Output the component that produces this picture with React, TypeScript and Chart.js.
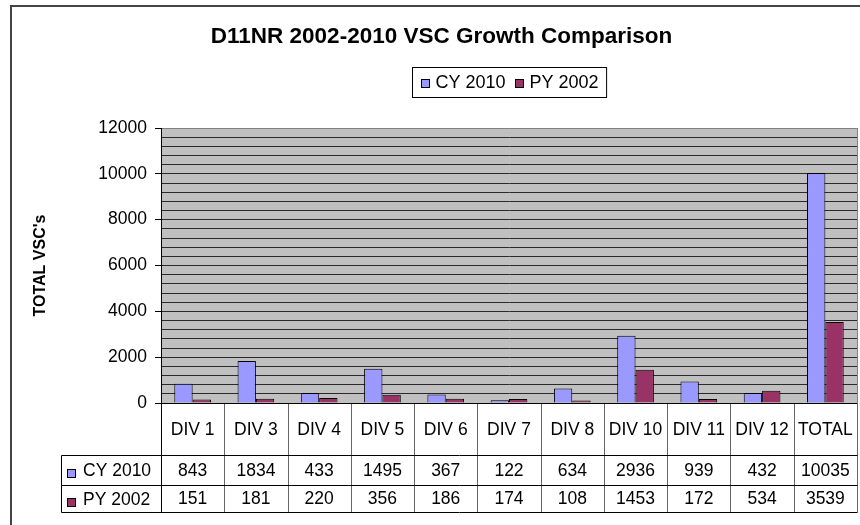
import React, { useEffect, useRef } from "react";
import { Chart, registerables } from "chart.js";

Chart.register(...registerables);

const categories = ["DIV 1", "DIV 3", "DIV 4", "DIV 5", "DIV 6", "DIV 7", "DIV 8", "DIV 10", "DIV 11", "DIV 12", "TOTAL"];
const cy2010 = [843, 1834, 433, 1495, 367, 122, 634, 2936, 939, 432, 10035];
const py2002 = [151, 181, 220, 356, 186, 174, 108, 1453, 172, 534, 3539];
const seriesLabels = ["CY 2010", "PY 2002"];
const seriesColors = ["#9999FF", "#993366"];
const titleText = "D11NR 2002-2010 VSC Growth Comparison";
const yAxisTitle = "TOTAL VSC's";
const yMax = 12000;
const yGridStep = 400;
const yLabelStep = 2000;

const FONT = "'Liberation Sans', Arial, sans-serif";

const backgroundPlugin = {
  id: "bgPlot",
  beforeDraw(chart: any) {
    const { ctx, chartArea: ca, width, height } = chart;
    ctx.save();
    ctx.fillStyle = "#ffffff";
    ctx.fillRect(0, 0, width, height);
    ctx.fillStyle = "#C0C0C0";
    ctx.fillRect(ca.left, ca.top, ca.right - ca.left, ca.bottom - ca.top);
    ctx.restore();
  },
  afterLayout(chart: any) {
    const tb = chart.titleBlock;
    if (tb) {
      tb.left += 8;
      tb.right += 8;
    }
  },
};

const overlayPlugin = {
  id: "overlay",
  afterDraw(chart: any) {
    const { ctx, chartArea: ca } = chart;
    const xs = chart.scales.x;
    const n = categories.length;
    const colW = (ca.right - ca.left) / n;
    ctx.save();

    // plot right border
    ctx.strokeStyle = "#808080";
    ctx.lineWidth = 1;
    ctx.beginPath();
    ctx.moveTo(Math.round(ca.right) + 0.5, ca.top);
    ctx.lineTo(Math.round(ca.right) + 0.5, ca.bottom);
    ctx.stroke();

    // outer chart border
    ctx.strokeStyle = "#444444";
    ctx.lineWidth = 2;
    ctx.beginPath();
    ctx.moveTo(11, chart.height + 2);
    ctx.lineTo(11, 6);
    ctx.lineTo(chart.width + 2, 6);
    ctx.stroke();

    // legend
    ctx.font = `18px ${FONT}`;
    const sq = 9, gapTxt = 6, gapItem = 9, pad = 8;
    const ds = chart.data.datasets;
    const widths = ds.map((d: any) => ctx.measureText(d.label).width);
    let inner = 0;
    widths.forEach((w: number, i: number) => {
      inner += sq + gapTxt + w + (i < widths.length - 1 ? gapItem : 0);
    });
    const boxW = inner + pad * 2;
    const boxH = 30;
    const cx = (ca.left + ca.right) / 2;
    const boxL = Math.round(cx - boxW / 2) + 0.5;
    const boxT = 67.5;
    ctx.fillStyle = "#ffffff";
    ctx.fillRect(boxL, boxT, boxW, boxH);
    ctx.strokeStyle = "#000000";
    ctx.lineWidth = 1;
    ctx.strokeRect(boxL, boxT, boxW, boxH);
    let lx = boxL + pad;
    const ly = boxT + boxH / 2 + 0.5;
    ds.forEach((d: any, i: number) => {
      ctx.fillStyle = d.backgroundColor;
      ctx.fillRect(Math.round(lx), Math.round(ly - sq / 2), sq, sq);
      ctx.strokeStyle = "#000";
      ctx.strokeRect(Math.round(lx) + 0.5, Math.round(ly - sq / 2) + 0.5, sq - 1, sq - 1);
      ctx.fillStyle = "#000";
      ctx.textAlign = "left";
      ctx.textBaseline = "middle";
      ctx.fillText(d.label, lx + sq + gapTxt, ly);
      lx += sq + gapTxt + widths[i] + gapItem;
    });

    // data table
    const r0 = Math.round(ca.bottom) + 0.5;
    const r1 = r0 + 52;
    const r2 = r1 + 30;
    const r3 = r2 + 27;
    const labelLeft = 61.5;
    const tL = Math.round(ca.left) + 0.5;
    const tR = Math.round(ca.right) + 0.5;

    ctx.strokeStyle = "#666666";
    ctx.lineWidth = 1;
    for (let i = 1; i < n; i++) {
      const bx = Math.round(ca.left + colW * i) + 0.5;
      ctx.beginPath();
      ctx.moveTo(bx, r0);
      ctx.lineTo(bx, r3);
      ctx.stroke();
    }
    ctx.beginPath();
    ctx.moveTo(tR, r0);
    ctx.lineTo(tR, r3);
    ctx.stroke();
    ctx.strokeStyle = "#000000";
    ctx.beginPath();
    ctx.moveTo(tL, r0);
    ctx.lineTo(tL, r3);
    ctx.moveTo(labelLeft, r1);
    ctx.lineTo(labelLeft, r3);
    ctx.stroke();

    ctx.beginPath();
    ctx.moveTo(tL, r0);
    ctx.lineTo(tR, r0);
    ctx.moveTo(labelLeft, r1);
    ctx.lineTo(tR, r1);
    ctx.moveTo(labelLeft, r2);
    ctx.lineTo(tR, r2);
    ctx.moveTo(labelLeft, r3);
    ctx.lineTo(tR, r3);
    ctx.stroke();

    ctx.font = `17.5px ${FONT}`;
    ctx.fillStyle = "#000";
    ctx.textAlign = "center";
    ctx.textBaseline = "middle";
    const rows = [cy2010, py2002];
    categories.forEach((c, i) => {
      const px = xs.getPixelForValue(i);
      ctx.fillText(c, px, (r0 + r1) / 2 + 0.5);
      ctx.fillText(String(rows[0][i]), px, (r1 + r2) / 2 + 0.5);
      ctx.fillText(String(rows[1][i]), px, (r2 + r3) / 2 + 0.5);
    });
    const rowYs = [(r1 + r2) / 2 + 1, (r2 + r3) / 2 + 1.5];
    ds.forEach((d: any, i: number) => {
      const y = rowYs[i];
      ctx.fillStyle = d.backgroundColor;
      ctx.fillRect(67, Math.round(y - 3), 9, 9);
      ctx.strokeStyle = "#000";
      ctx.strokeRect(67.5, Math.round(y - 3) + 0.5, 8, 8);
      ctx.fillStyle = "#000";
      ctx.textAlign = "left";
      ctx.fillText(d.label, 83, y);
    });

    ctx.restore();
  },
};

export default function App() {
  const canvasRef = useRef<HTMLCanvasElement | null>(null);

  useEffect(() => {
    const canvas = canvasRef.current;
    if (!canvas) return;
    const chart = new Chart(canvas, {
      type: "bar",
      data: {
        labels: categories,
        datasets: [
          {
            label: seriesLabels[0],
            data: cy2010,
            backgroundColor: seriesColors[0],
            borderColor: "#000000",
            borderWidth: 1,
            categoryPercentage: 0.58,
            barPercentage: 1.0,
          },
          {
            label: seriesLabels[1],
            data: py2002,
            backgroundColor: seriesColors[1],
            borderColor: "#000000",
            borderWidth: 1,
            categoryPercentage: 0.58,
            barPercentage: 1.0,
          },
        ],
      },
      options: {
        responsive: false,
        animation: false,
        devicePixelRatio: 1,
        layout: { padding: { left: 10, right: 3, top: 6, bottom: 0 } },
        plugins: {
          legend: { display: false },
          tooltip: { enabled: false },
          title: {
            display: true,
            text: titleText,
            color: "#000",
            font: { family: FONT, size: 22.5, weight: "bold" },
            padding: { top: 17.5, bottom: 77.5 },
          },
        },
        scales: {
          x: {
            type: "category",
            offset: true,
            ticks: { display: false },
            grid: { display: false },
            border: { display: false },
            afterFit: (scale: any) => {
              scale.height = 122;
            },
          },
          y: {
            min: 0,
            max: yMax,
            ticks: {
              stepSize: yGridStep,
              autoSkip: false,
              maxTicksLimit: 100,
              padding: 8,
              color: "#000",
              font: { family: FONT, size: 17.5 },
              callback: (v: any) => (Number(v) % yLabelStep === 0 ? String(v) : ""),
            },
            grid: {
              color: (c: any) => (c.tick && c.tick.value === yMax ? "#808080" : "#2a2a2a"),
              lineWidth: 1,
              drawTicks: true,
              tickLength: 6,
              tickColor: (c: any) =>
                c.tick && Number(c.tick.value) % yLabelStep === 0 ? "#000000" : "rgba(0,0,0,0)",
            },
            border: { display: true, color: "#000000" },
            title: {
              display: true,
              text: yAxisTitle,
              color: "#000",
              font: { family: FONT, size: 16, weight: "bold" },
              padding: { top: 20.5, bottom: 0 },
            },
            afterFit: (scale: any) => {
              scale.width = 151;
            },
          },
        },
      },
      plugins: [backgroundPlugin, overlayPlugin],
    });
    return () => chart.destroy();
  }, []);

  return (
    <div style={{ position: "absolute", left: 0, top: 0, width: 860, height: 525 }}>
      <canvas ref={canvasRef} width={860} height={525} style={{ width: 860, height: 525, display: "block" }} />
    </div>
  );
}
